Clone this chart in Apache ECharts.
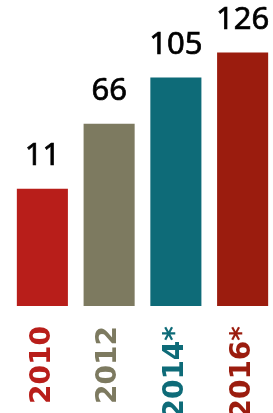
<!DOCTYPE html>
<html><head><meta charset="utf-8">
<script src="https://cdn.jsdelivr.net/npm/echarts@6/dist/echarts.min.js"></script>
<style>html,body{margin:0;padding:0;background:#fff}#c{width:273px;height:413px}</style>
</head><body><div id="c"></div>
<script>
const categories = ['2010', '2012', '2014*', '2016*'];
const values = [11, 66, 105, 126];
const barColors = ['#B81E1A', '#7D7A60', '#0E6B78', '#9B1C0E'];

const Y_MIN = -88, Y_MAX = 140;
const chart = echarts.init(document.getElementById('c'), null, {renderer: 'canvas'});
chart.setOption({
  animation: false,
  grid: {left: 9, right: -3, top: 36, bottom: 107, containLabel: false, outerBoundsMode: 'none'},
  xAxis: {
    type: 'category', data: categories,
    axisLine: {show: false}, axisTick: {show: false},
    axisLabel: {
      rotate: 90, margin: 20, interval: 0,
      fontFamily: 'DejaVu Sans', fontWeight: 'bold', fontSize: 28,
      color: function (v, i) { return barColors[i]; }
    }
  },
  yAxis: {type: 'value', min: Y_MIN, max: Y_MAX, show: false, splitLine: {show: false}},
  series: [{
    type: 'custom',
    data: values.map((v, i) => [i, v]),
    renderItem: function (params, api) {
      const i = api.value(0), v = api.value(1);
      const top = api.coord([i, v]);
      const base = api.coord([i, Y_MIN]);
      const w = api.size([1, 0])[0] * 0.765;
      return {
        type: 'group',
        children: [
          {type: 'rect', shape: {x: top[0] - w / 2, y: top[1], width: w, height: base[1] - top[1]},
           style: {fill: barColors[i]}},
          {type: 'text', style: {text: String(v), x: top[0], y: top[1] - 17,
            align: 'center', verticalAlign: 'bottom', fill: '#000',
            stroke: '#000', lineWidth: 0.7,
            font: '31px "Liberation Sans Narrow", "Noto Sans", sans-serif'}}
        ]
      };
    }
  }]
});
</script></body></html>
